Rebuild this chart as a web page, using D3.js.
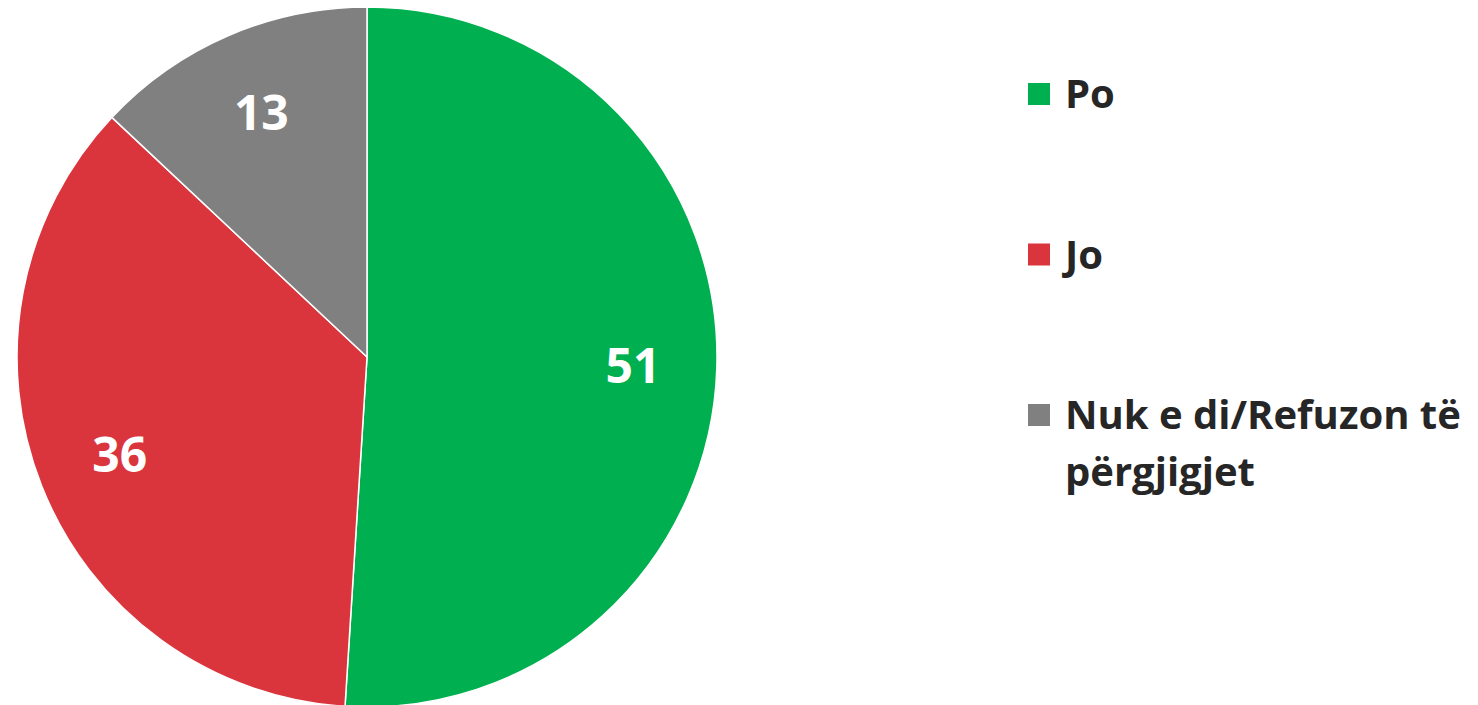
<!DOCTYPE html>
<html>
<head>
<meta charset="utf-8">
<script src="https://cdn.jsdelivr.net/npm/d3@7"></script>
<style>
  html, body { margin: 0; padding: 0; background: #ffffff; }
  svg { display: block; font-family: "Open Sans", "Noto Sans", sans-serif; }
</style>
</head>
<body>
<svg id="chart" width="1478" height="705"></svg>
<script>
//chart data
var categories = ['Po', 'Jo', 'Nuk e di/Refuzon të përgjigjet'];
var values = [51, 36, 13];
var colors = ['#00B050', '#DA343C', '#808080'];

//legend text is wrapped into lines
var legendLines = [['Po'], ['Jo'], ['Nuk e di/Refuzon të', 'përgjigjet']];

var width = 1478,
    height = 705,
    radius = 350,
    cx = 367,
    cy = 357;

var svg = d3.select('#chart');

var data = categories.map(function (c, i) {
    return { name: c, value: values[i], color: colors[i] };
});

//pie layout keeps the original order, clockwise from top
var pie = d3.pie().sort(null).value(function (d) { return d.value; });
var arcs = pie(data);

var arc = d3.arc().innerRadius(0).outerRadius(radius);
var labelArc = d3.arc().innerRadius(radius * 0.76).outerRadius(radius * 0.76);

var chartG = svg.append('g')
    .attr('transform', 'translate(' + cx + ',' + cy + ')');

//slices
chartG.selectAll('path.slice')
    .data(arcs)
    .enter().append('path')
    .attr('class', 'slice')
    .attr('d', arc)
    .attr('fill', function (d) { return d.data.color; })
    .attr('stroke', '#ffffff')
    .attr('stroke-width', 1.5);

//value labels
chartG.selectAll('text.value')
    .data(arcs)
    .enter().append('text')
    .attr('class', 'value')
    .attr('transform', function (d) { return 'translate(' + labelArc.centroid(d) + ')'; })
    .attr('text-anchor', 'middle')
    .attr('dy', '0.36em')
    .attr('fill', '#ffffff')
    .attr('font-size', 48)
    .attr('font-weight', 700)
    .text(function (d) { return d.data.value; });

//legend
var legendY = d3.scalePoint()
    .domain(categories)
    .range([94, 415]);

var legend = svg.append('g')
    .attr('transform', 'translate(1028,0)');

var items = legend.selectAll('g.item')
    .data(data)
    .enter().append('g')
    .attr('class', 'item')
    .attr('transform', function (d) { return 'translate(0,' + legendY(d.name) + ')'; });

items.append('rect')
    .attr('x', 0)
    .attr('y', -11)
    .attr('width', 22)
    .attr('height', 22)
    .attr('fill', function (d) { return d.color; });

items.append('text')
    .attr('x', 37)
    .attr('y', 0)
    .attr('fill', '#262626')
    .attr('font-size', 40)
    .attr('font-weight', 700)
    .each(function (d, i) {
        var t = d3.select(this);
        legendLines[i].forEach(function (line, j) {
            t.append('tspan')
                .attr('x', 37)
                .attr('dy', j === 0 ? '0.36em' : 57)
                .text(line);
        });
    });
</script>
</body>
</html>
